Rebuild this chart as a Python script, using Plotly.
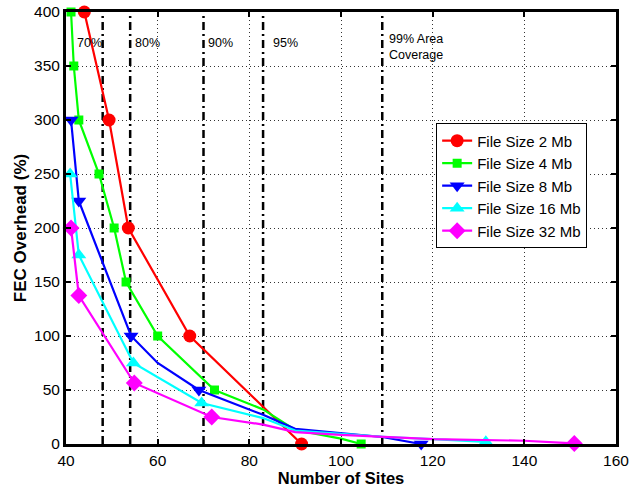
import plotly.graph_objects as go

# ---------------- data ----------------
series_names = ["File Size 2 Mb", "File Size 4 Mb", "File Size 8 Mb", "File Size 16 Mb", "File Size 32 Mb"]

x_2mb = [44, 49.4, 53.6, 67, 91.4]
y_2mb = [400, 300, 200, 100, 0]
mk_2mb = [0, 1, 2, 3, 4]

x_4mb = [41.1, 41.7, 42.8, 47.2, 50.5, 53.1, 60, 72.4, 83, 90, 100, 104.4]
y_4mb = [400, 350, 300, 250, 200, 150, 100, 50, 32, 13, 5, 0]
mk_4mb = [0, 1, 2, 3, 4, 5, 6, 7, 11]

x_8mb = [41.1, 42.8, 54.2, 60, 69, 83, 90, 100, 109, 117.5]
y_8mb = [300, 225, 100, 75, 50, 27, 14, 10, 6.5, 0]
mk_8mb = [0, 1, 2, 4, 9]

x_16mb = [40.9, 42.8, 54.7, 69.6, 83, 90, 100, 110, 120, 131.6]
y_16mb = [250, 175, 75, 38, 24, 12.5, 9.5, 6.5, 4.5, 2]
mk_16mb = [0, 1, 2, 3, 9]

x_32mb = [41.1, 42.8, 54.9, 71.8, 83, 90, 100, 110, 120, 140, 150.9]
y_32mb = [200, 137.5, 56.5, 25, 18, 11, 8.5, 6.5, 4.5, 3, 0.5]
mk_32mb = [0, 1, 2, 3, 10]

coverage_x = [48, 54, 70, 83, 109]
coverage_labels = ["70%", "80%", "90%", "95%", "99% Area<br>Coverage"]
label_x = [42, 54.6, 70.5, 84.7, 110]
label_y = [371, 371, 371, 371, 368]

x_ticks = [40, 60, 80, 100, 120, 140, 160]
y_ticks = [0, 50, 100, 150, 200, 250, 300, 350, 400]

colors = ["#ff0000", "#00ff00", "#0000ff", "#00ffff", "#ff00ff"]
symbols = ["circle", "square", "triangle-down", "triangle-up", "diamond"]
msizes = [13, 9, 13, 13, 13]

FONT = "Liberation Sans, Arial, sans-serif"

fig = go.Figure()

all_series = [(x_2mb, y_2mb, mk_2mb), (x_4mb, y_4mb, mk_4mb), (x_8mb, y_8mb, mk_8mb),
              (x_16mb, y_16mb, mk_16mb), (x_32mb, y_32mb, mk_32mb)]

for i, (xs, ys, mk) in enumerate(all_series):
    fig.add_trace(go.Scatter(x=xs, y=ys, mode="lines", line=dict(color=colors[i], width=2.2),
                             showlegend=False, hoverinfo="skip", cliponaxis=False))
    fig.add_trace(go.Scatter(x=[xs[j] for j in mk], y=[ys[j] for j in mk], mode="markers",
                             marker=dict(symbol=symbols[i], size=msizes[i], color=colors[i],
                                         line=dict(width=0)),
                             showlegend=False, cliponaxis=False))
    fig.add_trace(go.Scatter(x=[None], y=[None], mode="lines+markers", name=series_names[i],
                             line=dict(color=colors[i], width=2.2),
                             marker=dict(symbol=symbols[i], size=msizes[i], color=colors[i],
                                         line=dict(width=0))))

for cx in coverage_x:
    fig.add_shape(type="line", x0=cx, x1=cx, y0=0, y1=400, xref="x", yref="y",
                  line=dict(color="black", width=2.5, dash="8px,4px,2px,4px"), layer="between")

for lx, ly, lt in zip(label_x, label_y, coverage_labels):
    fig.add_annotation(x=lx, y=ly, text=lt, showarrow=False, xanchor="left", yanchor="middle",
                       align="left", font=dict(family=FONT, size=12.5, color="black"))

axis_common = dict(showline=True, linecolor="black", linewidth=3, mirror="allticks",
                   ticks="inside", ticklen=5, tickwidth=1.5, tickcolor="black",
                   showgrid=True, gridcolor="#333333", gridwidth=1, griddash="1px,3px",
                   zeroline=False, automargin=False,
                   tickfont=dict(family=FONT, size=15.5, color="black"))

fig.update_xaxes(range=[40, 160], tickvals=x_ticks, ticklabelstandoff=0,
                 title=dict(text="<b>Number of Sites</b>", font=dict(family=FONT, size=16.5, color="black"),
                            standoff=3),
                 **axis_common)
fig.update_yaxes(range=[0, 400], tickvals=y_ticks,
                 title=dict(text="<b>FEC Overhead (%)</b>", font=dict(family=FONT, size=17, color="black"),
                            standoff=4),
                 **axis_common)

fig.update_layout(
    width=632, height=487,
    margin=dict(l=66, r=16, t=12, b=43),
    plot_bgcolor="white", paper_bgcolor="white",
    font=dict(family=FONT, color="black"),
    legend=dict(x=0.673, y=0.742, xanchor="left", yanchor="top",
                bgcolor="white", bordercolor="black", borderwidth=1,
                font=dict(family=FONT, size=15, color="black"),
                tracegroupgap=0),
)

fig.write_html("out.html")
